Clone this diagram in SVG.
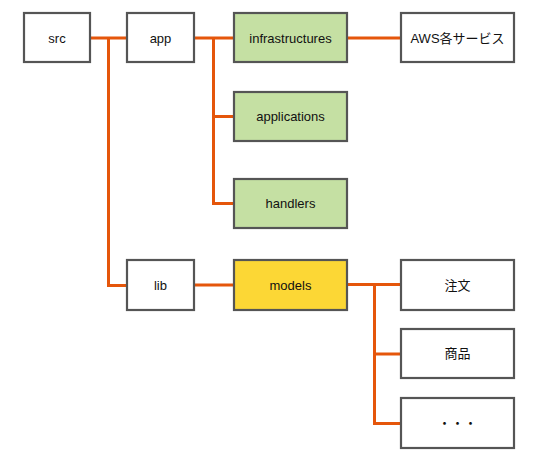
<svg xmlns="http://www.w3.org/2000/svg" width="542" height="464" viewBox="0 0 542 464">
<style>
.n{stroke:#555;stroke-width:2.2}
.w{fill:#fff}
.g{fill:#c5e0a3}
.y{fill:#fcd735}
text{font-family:"Liberation Sans","Noto Sans CJK JP",Arial,sans-serif;font-size:13px;fill:#111;text-anchor:middle;dominant-baseline:central}
.c{fill:none;stroke:#e5560b;stroke-width:3}
</style>
<rect width="542" height="464" fill="#fff"/>
<g id="connectors">
<path class="c" d="M90 38H127"/>
<path class="c" d="M108.5 38V285.5H127"/>
<path class="c" d="M194 38H234"/>
<path class="c" d="M213.5 38V203.5H234"/>
<path class="c" d="M213.5 116.5H234"/>
<path class="c" d="M347 38H401"/>
<path class="c" d="M194 285H234"/>
<path class="c" d="M347 284.5H401"/>
<path class="c" d="M374.5 284.5V423.5H401"/>
<path class="c" d="M374.5 354H401"/>
</g>
<g id="src"><rect class="n w" x="24" y="13" width="66" height="49"/><text x="57" y="38">src</text></g>
<g id="app"><rect class="n w" x="127" y="13" width="67" height="49"/><text x="160.5" y="38">app</text></g>
<g id="infrastructures"><rect class="n g" x="234" y="13" width="113" height="49"/><text x="290.5" y="38">infrastructures</text></g>
<g id="aws"><rect class="n w" x="401" y="13" width="113" height="49"/><text x="457.5" y="38">AWS各サービス</text></g>
<g id="applications"><rect class="n g" x="234" y="92" width="113" height="49"/><text x="290.5" y="116.5">applications</text></g>
<g id="handlers"><rect class="n g" x="234" y="179" width="113" height="49"/><text x="290.5" y="203.5">handlers</text></g>
<g id="lib"><rect class="n w" x="127" y="260" width="67" height="50"/><text x="160.5" y="285">lib</text></g>
<g id="models"><rect class="n y" x="234" y="260" width="113" height="50"/><text x="290.5" y="285">models</text></g>
<g id="order"><rect class="n w" x="401" y="260" width="113" height="50"/><text x="457.5" y="285">注文</text></g>
<g id="product"><rect class="n w" x="401" y="329" width="113" height="49"/><text x="457.5" y="353.5">商品</text></g>
<g id="etc"><rect class="n w" x="401" y="398" width="113" height="50"/><text x="457.5" y="423">・・・</text></g>
</svg>
